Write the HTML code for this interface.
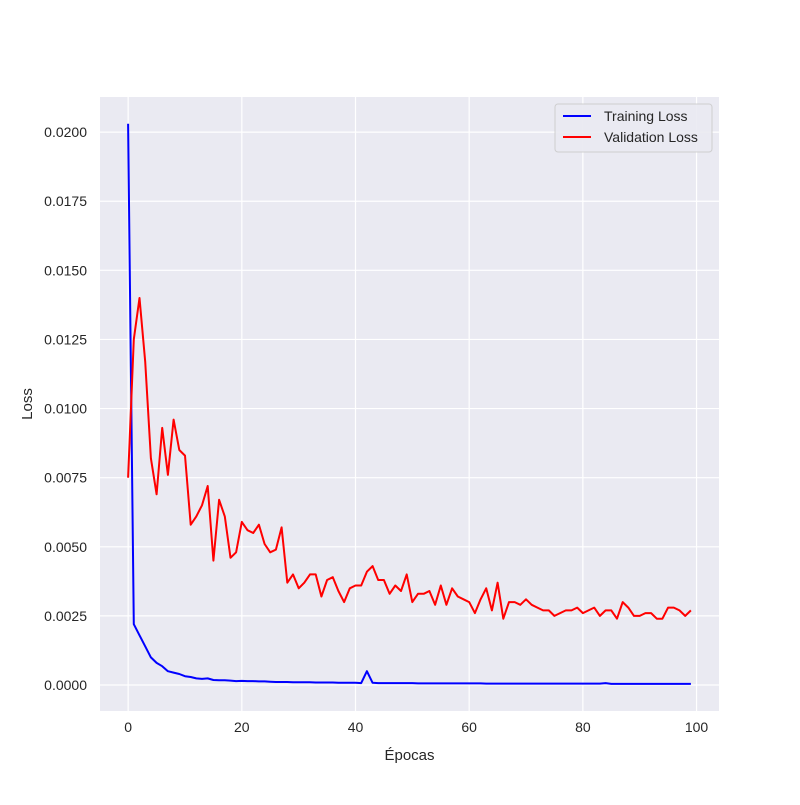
<!DOCTYPE html>
<html><head><meta charset="utf-8"><style>
body{margin:0;background:#fff;}
svg text{font-family:"Liberation Sans","DejaVu Sans",sans-serif;fill:#262626;}
</style></head><body>
<svg id="chart" width="800" height="800">
<rect x="100" y="97" width="619" height="614" fill="#eaeaf2"/>
<g id="grid"></g><g id="xt"></g><g id="yt"></g><g id="lines"></g>
<text x="409.5" y="760" font-size="15" text-anchor="middle">Épocas</text>
<text transform="translate(32,404) rotate(-90)" font-size="15" text-anchor="middle">Loss</text>
<g>
<rect x="555" y="104" width="157" height="48" rx="3" fill="#eaeaf2" stroke="#cccccc" opacity="0.9"/>
<line x1="563" y1="116" x2="591" y2="116" stroke="#0000ff" stroke-width="2"/>
<text x="604" y="121" font-size="14">Training Loss</text>
<line x1="563" y1="137" x2="591" y2="137" stroke="#ff0000" stroke-width="2"/>
<text x="604" y="142" font-size="14">Validation Loss</text>
</g>
</svg>
<script>
const xTicks=[0,20,40,60,80,100];
const yTicks=[0,0.0025,0.005,0.0075,0.01,0.0125,0.015,0.0175,0.02];
const yLabels=["0.0000","0.0025","0.0050","0.0075","0.0100","0.0125","0.0150","0.0175","0.0200"];
const trainLoss=[0.0203,0.0022,0.0018,0.0014,0.0010,0.0008,0.00068,0.0005,0.00045,0.0004,0.00032,0.00029,0.00024,0.00022,0.00024,0.00018,0.00017,0.00017,0.00016,0.00014,0.00015,0.00014,0.00014,0.00013,0.00013,0.00012,0.00011,0.00011,0.00011,0.0001,0.0001,0.0001,0.0001,0.00009,0.00009,0.00009,0.00009,0.00008,0.00008,0.00008,0.00008,0.00007,0.0005,0.00008,0.00007,0.00007,0.00007,0.00007,0.00007,0.00007,0.00007,0.00006,0.00006,0.00006,0.00006,0.00006,0.00006,0.00006,0.00006,0.00006,0.00006,0.00006,0.00006,0.00005,0.00005,0.00005,0.00005,0.00005,0.00005,0.00005,0.00005,0.00005,0.00005,0.00005,0.00005,0.00005,0.00005,0.00005,0.00005,0.00005,0.00005,0.00005,0.00005,0.00005,0.00007,0.00004,0.00004,0.00004,0.00004,0.00004,0.00004,0.00004,0.00004,0.00004,0.00004,0.00004,0.00004,0.00004,0.00004,0.00004];
const valLoss=[0.0075,0.0125,0.0140,0.0117,0.0082,0.0069,0.0093,0.0076,0.0096,0.0085,0.0083,0.0058,0.0061,0.0065,0.0072,0.0045,0.0067,0.0061,0.0046,0.0048,0.0059,0.0056,0.0055,0.0058,0.0051,0.0048,0.0049,0.0057,0.0037,0.0040,0.0035,0.0037,0.0040,0.0040,0.0032,0.0038,0.0039,0.0034,0.0030,0.0035,0.0036,0.0036,0.0041,0.0043,0.0038,0.0038,0.0033,0.0036,0.0034,0.0040,0.0030,0.0033,0.0033,0.0034,0.0029,0.0036,0.0029,0.0035,0.0032,0.0031,0.0030,0.0026,0.0031,0.0035,0.0027,0.0037,0.0024,0.0030,0.0030,0.0029,0.0031,0.0029,0.0028,0.0027,0.0027,0.0025,0.0026,0.0027,0.0027,0.0028,0.0026,0.0027,0.0028,0.0025,0.0027,0.0027,0.0024,0.0030,0.0028,0.0025,0.0025,0.0026,0.0026,0.0024,0.0024,0.0028,0.0028,0.0027,0.0025,0.0027];
const L=100,R=719,T=97,B=711,x0=-4.95,x1=103.95,y0=-0.00094,y1=0.02127;
const X=v=>L+(v-x0)/(x1-x0)*(R-L);
const Y=v=>B-(v-y0)/(y1-y0)*(B-T);
const NS="http://www.w3.org/2000/svg";
function mk(tag,attrs,parent){const e=document.createElementNS(NS,tag);for(const k in attrs)e.setAttribute(k,attrs[k]);document.getElementById(parent).appendChild(e);return e;}
xTicks.forEach(t=>{
  const g=mk('line',{x1:X(t),x2:X(t),y1:T,y2:B,stroke:'#fff','stroke-width':1.2},'grid');
  
  
  const tx=mk('text',{x:X(t),y:B+21,'font-size':14,'text-anchor':'middle'},'xt');
  tx.textContent=t;
  
  
});
yTicks.forEach((t,i)=>{
  const g=mk('line',{x1:L,x2:R,y1:Y(t),y2:Y(t),stroke:'#fff','stroke-width':1.2},'grid');
  
  
  const tx=mk('text',{x:L-13,y:Y(t)+5,'font-size':14,'text-anchor':'end'},'yt');
  tx.textContent=yLabels[i];
  
  
});
function pts(a){return a.map((v,i)=>X(i).toFixed(1)+','+Y(v).toFixed(1)).join(' ');}
const tl=mk('polyline',{points:pts(trainLoss),fill:'none',stroke:'#0000ff','stroke-width':2,'stroke-linejoin':'round'},'lines');


const vl=mk('polyline',{points:pts(valLoss),fill:'none',stroke:'#ff0000','stroke-width':2,'stroke-linejoin':'round'},'lines');


</script>
</body></html>
